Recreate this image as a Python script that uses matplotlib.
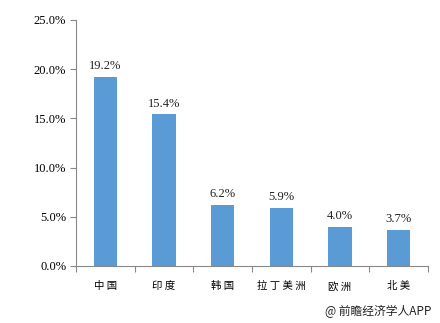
import matplotlib
matplotlib.use("Agg")
import matplotlib.pyplot as plt
from matplotlib.ticker import FuncFormatter, MultipleLocator

categories = ["中国", "印度", "韩国", "拉丁美洲", "欧洲", "北美"]
values = [19.2, 15.4, 6.2, 5.9, 4.0, 3.7]
value_labels = ["19.2%", "15.4%", "6.2%", "5.9%", "4.0%", "3.7%"]

fig = plt.figure(figsize=(4.4, 3.23), dpi=100)
ax = fig.add_axes([76/440, 1-266/323, (428-76)/440, (266-20)/323])

x = list(range(len(categories)))
bars = ax.bar(x, values, width=0.4, color="#5B9BD5")
for xi, v, lab in zip(x, values, value_labels):
    ax.text(xi, v + 0.5, lab, ha="center", va="bottom", fontsize=9,
            family="Liberation Serif", color="#222222")

ax.set_xlim(-0.5, len(categories) - 0.5)
ax.set_ylim(0, 25)
ax.yaxis.set_major_locator(MultipleLocator(5))
ax.yaxis.set_major_formatter(FuncFormatter(lambda v, p: f"{v:.1f}%"))
for t in ax.get_yticklabels():
    t.set_family("Liberation Serif")
ax.tick_params(axis="y", labelsize=9, length=4, direction="out", color="#888888", pad=3)

ax.set_xticks([i + 0.5 for i in range(-1, len(categories))], minor=False)
ax.set_xticklabels([])
ax.tick_params(axis="x", length=4, direction="out", color="#888888")
ax.set_xticks(x, minor=True)
ax.set_xticklabels([" ".join(c) for c in categories], minor=True,
                   family=["Noto Sans CJK SC", "DejaVu Sans"], fontsize=7.5)
ax.tick_params(axis="x", which="minor", length=0, pad=11)

for s in ["top", "right"]:
    ax.spines[s].set_visible(False)
ax.spines["left"].set_color("#888888")
ax.spines["bottom"].set_color("#888888")

fig.text(431/440, 1-311/323, "@ 前瞻经济学人APP", ha="right", va="center",
         fontsize=8.5, family=["Noto Sans CJK SC", "DejaVu Sans"], color="#222222")

fig.savefig("out.png", dpi=100)
